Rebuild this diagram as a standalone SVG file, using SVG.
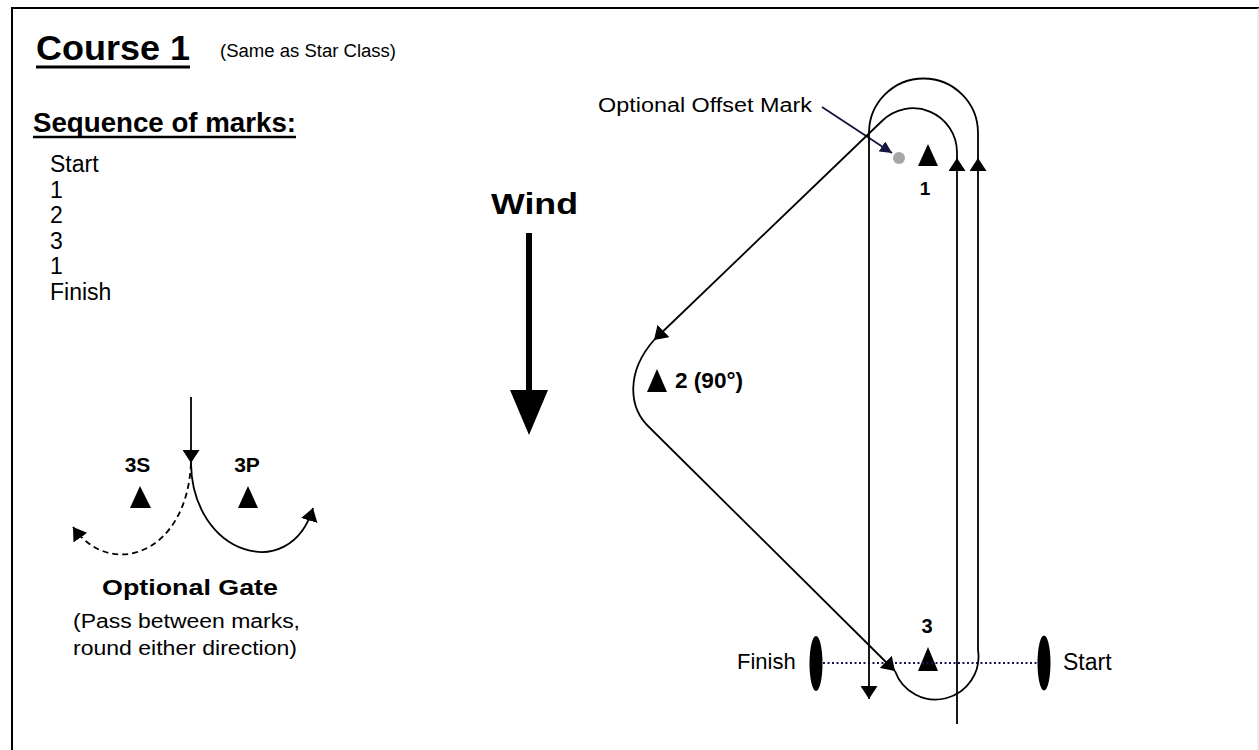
<svg xmlns="http://www.w3.org/2000/svg" width="1259" height="750" viewBox="0 0 1259 750">
<style>
text{font-family:"Liberation Sans",Arial,sans-serif;fill:#000}
.b{font-weight:bold}
.ln{fill:none;stroke:#000;stroke-width:1.8}
.mk{fill:#000}
</style>
<defs>
<marker id="ah" markerUnits="userSpaceOnUse" viewBox="0 0 13 17" refX="13" refY="8.5" markerWidth="13" markerHeight="17" orient="auto"><path d="M0,0 L13,8.5 L0,17 z" fill="#000"/></marker>
<marker id="ahn" markerUnits="userSpaceOnUse" viewBox="0 0 12 12" refX="12" refY="6" markerWidth="12" markerHeight="12" orient="auto"><path d="M0,0 L12,6 L0,12 z" fill="#141440"/></marker>
</defs>
<rect width="1259" height="750" fill="#fff"/>
<g id="frame">
<path d="M12,750 L12,8 L1259,8" fill="none" stroke="#000" stroke-width="2"/>
<line x1="1258" y1="8" x2="1258" y2="750" stroke="#ddd" stroke-width="1"/>
</g>
<g id="title">
<text x="36" y="60" class="b" font-size="35" textLength="154" lengthAdjust="spacingAndGlyphs">Course 1</text>
<line x1="36" y1="67" x2="190" y2="67" stroke="#000" stroke-width="3"/>
<text x="220" y="57" font-size="18" textLength="176" lengthAdjust="spacingAndGlyphs">(Same as Star Class)</text>
</g>
<g id="sequence">
<text x="33" y="132" class="b" font-size="28" textLength="263" lengthAdjust="spacingAndGlyphs">Sequence of marks:</text>
<line x1="33" y1="137" x2="296" y2="137" stroke="#000" stroke-width="2.5"/>
<g font-size="23">
<text x="50" y="172">Start</text>
<text x="50" y="197.5">1</text>
<text x="50" y="223">2</text>
<text x="50" y="248.5">3</text>
<text x="50" y="274">1</text>
<text x="50" y="300">Finish</text>
</g>
</g>
<g id="wind">
<text x="534.5" y="214" class="b" font-size="29" text-anchor="middle" textLength="87" lengthAdjust="spacingAndGlyphs">Wind</text>
<rect x="526" y="233" width="6" height="158"/>
<polygon points="510,390 548,390 529,435"/>
</g>
<g id="gate">
<polygon class="mk" points="140,486 130,508 151,508"/>
<polygon class="mk" points="248,486 238,508 258,508"/>
<text x="137.5" y="472" class="b" font-size="21" text-anchor="middle">3S</text>
<text x="247" y="472" class="b" font-size="21" text-anchor="middle">3P</text>
<path class="ln" d="M191,397 L191,463" marker-end="url(#ah)"/>
<path class="ln" d="M191,463 C192,555 290,585 313,508" marker-end="url(#ah)"/>
<path class="ln" d="M191,463 C187,555 110,580 73,527" stroke-dasharray="6,4" marker-end="url(#ah)"/>
<text x="190" y="595" class="b" font-size="22" text-anchor="middle" textLength="176" lengthAdjust="spacingAndGlyphs">Optional Gate</text>
<text x="73" y="628" font-size="20" textLength="227" lengthAdjust="spacingAndGlyphs">(Pass between marks,</text>
<text x="73" y="655" font-size="20" textLength="224" lengthAdjust="spacingAndGlyphs">round either direction)</text>
</g>
<g id="mark1">
<polygon class="mk" points="928,144 918,166 938,166"/>
<text x="925" y="195" class="b" font-size="19" text-anchor="middle">1</text>
</g>
<g id="offset-mark">
<circle cx="899" cy="158" r="6" fill="#a6a6a6"/>
<text x="598" y="112" font-size="20" textLength="214" lengthAdjust="spacingAndGlyphs">Optional Offset Mark</text>
</g>
<g id="mark2">
<polygon class="mk" points="657,369 647,392 667,392"/>
<text x="675" y="388" class="b" font-size="22" textLength="68" lengthAdjust="spacingAndGlyphs">2 (90°)</text>
</g>
<g id="mark3">
<polygon class="mk" points="928,647 918,671 938,671"/>
<text x="927" y="633" class="b" font-size="20" text-anchor="middle">3</text>
</g>
<g id="finish-mark">
<ellipse cx="816" cy="663.5" rx="6.5" ry="27.5"/>
<text x="737" y="669" font-size="22">Finish</text>
</g>
<g id="start-mark">
<ellipse cx="1044" cy="663" rx="6.5" ry="27.5"/>
<text x="1063" y="670" font-size="23">Start</text>
</g>
<g id="connectors">
<line x1="823" y1="663" x2="1037" y2="663" stroke="#141450" stroke-width="2" stroke-dasharray="2,2.5"/>
<path d="M822,107 L892,153" fill="none" stroke="#141440" stroke-width="1.8" marker-end="url(#ahn)"/>
<path class="ln" d="M957,724 L957,158" marker-end="url(#ah)"/>
<path class="ln" d="M957,158 L957,152 A44,44 0 0 0 882,121 L654,340" marker-end="url(#ah)"/>
<path class="ln" d="M654,340 C626,372 628,408 650,428 L895,671" marker-end="url(#ah)"/>
<path class="ln" d="M895,671 A43,43 0 0 0 978,650 L978,158" marker-end="url(#ah)"/>
<path class="ln" d="M978,158 L978,133 A54.5,54.5 0 0 0 869,133 L869,699" marker-end="url(#ah)"/>
</g>
</svg>
